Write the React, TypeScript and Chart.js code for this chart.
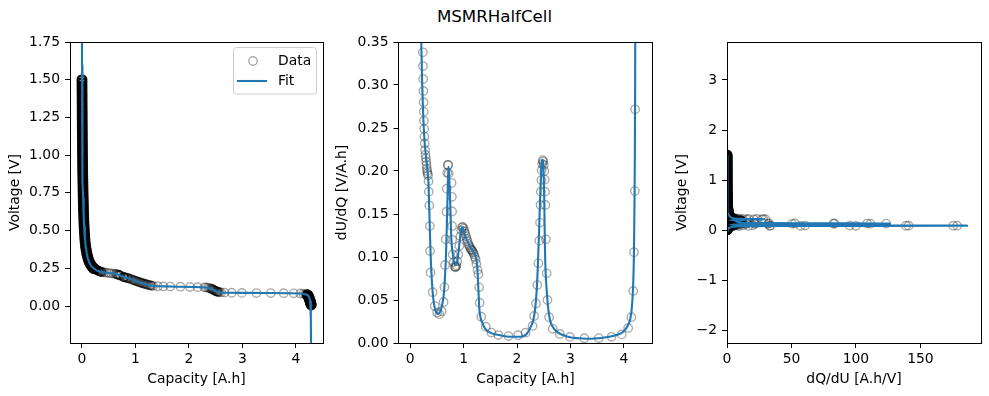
import React, { useEffect, useRef } from "react";
import { Chart, registerables } from "chart.js";

Chart.register(...registerables);

const FONT = "'DejaVu Sans', sans-serif";
const FS = 13.9;

// ---------------- measured data (sparse, individually visible circles) ----------------
const sparseCapacity = [
  0.237, 0.24, 0.243, 0.246, 0.25, 0.253, 0.257, 0.261, 0.266, 0.272, 0.279, 0.286, 0.293, 0.3, 0.306,
  0.312, 0.318, 0.324, 0.336, 0.343, 0.347, 0.358, 0.368, 0.372, 0.38, 0.42, 0.46, 0.505, 0.545, 0.59,
  0.625, 0.64, 0.652, 0.665, 0.678, 0.685, 0.693, 0.703, 0.712, 0.72, 0.775, 0.78, 0.785, 0.785, 0.785,
  0.795, 0.815, 0.835, 0.845, 0.855, 0.865, 0.88, 0.9, 0.92, 0.94, 0.955, 0.97, 0.985, 1.0, 1.015,
  1.03, 1.045, 1.06, 1.075, 1.09, 1.105, 1.12, 1.135, 1.15, 1.165, 1.18, 1.195, 1.21, 1.225, 1.24,
  1.26, 1.277, 1.29, 1.3, 1.33, 1.415, 1.52, 1.65, 1.84, 2.02, 2.16, 2.29, 2.32, 2.355, 2.38,
  2.4, 2.417, 2.43, 2.44, 2.445, 2.455, 2.46, 2.47, 2.48, 2.49, 2.5, 2.51, 2.52, 2.525, 2.53,
  2.54, 2.555, 2.57, 2.6, 2.667, 2.8, 2.99, 3.26, 3.53, 3.77, 3.96, 4.08, 4.14, 4.175, 4.19,
  4.206, 4.21,
];
const sparseVoltage = [
  0.2455, 0.245, 0.2445, 0.244, 0.2435, 0.243, 0.2425, 0.242, 0.241, 0.2395, 0.238, 0.237, 0.2355, 0.2345, 0.2335,
  0.2325, 0.2315, 0.2305, 0.229, 0.228, 0.2275, 0.2265, 0.2255, 0.225, 0.2245, 0.2225, 0.2205, 0.2185, 0.217, 0.2145,
  0.2125, 0.2115, 0.2105, 0.209, 0.2075, 0.2065, 0.2055, 0.204, 0.2025, 0.201, 0.1925, 0.192, 0.1915, 0.1915, 0.1915,
  0.1905, 0.189, 0.187, 0.186, 0.185, 0.184, 0.1825, 0.18, 0.1775, 0.175, 0.173, 0.171, 0.169, 0.167, 0.165,
  0.163, 0.161, 0.16, 0.158, 0.156, 0.154, 0.153, 0.151, 0.149, 0.148, 0.146, 0.145, 0.143, 0.142, 0.14,
  0.138, 0.137, 0.136, 0.135, 0.133, 0.131, 0.13, 0.129, 0.128, 0.126, 0.125, 0.124, 0.123, 0.121, 0.119,
  0.117, 0.115, 0.113, 0.111, 0.11, 0.108, 0.106, 0.105, 0.103, 0.101, 0.099, 0.097, 0.096, 0.095, 0.095,
  0.094, 0.093, 0.092, 0.09, 0.089, 0.088, 0.087, 0.086, 0.086, 0.085, 0.084, 0.083, 0.081, 0.079, 0.078,
  0.077, 0.076,
];
const sparseDUdQ = [
  0.338, 0.322, 0.307, 0.293, 0.28, 0.269, 0.2585, 0.249, 0.24, 0.232, 0.2245, 0.219, 0.215, 0.211, 0.207,
  0.203, 0.2, 0.197, 0.195, 0.188, 0.176, 0.16, 0.136, 0.107, 0.082, 0.059, 0.043, 0.0355, 0.0335, 0.037,
  0.0477, 0.065, 0.0907, 0.1206, 0.1527, 0.1795, 0.198, 0.207, 0.207, 0.197, 0.186, 0.17, 0.153, 0.136, 0.12,
  0.103, 0.094, 0.089, 0.088, 0.0885, 0.09, 0.095, 0.103, 0.113, 0.124, 0.131, 0.1345, 0.135, 0.133, 0.13,
  0.127, 0.124, 0.121, 0.118, 0.115, 0.113, 0.111, 0.109, 0.108, 0.107, 0.105, 0.103, 0.1, 0.097, 0.092,
  0.085, 0.08, 0.0647, 0.0469, 0.0306, 0.019, 0.0121, 0.0092, 0.0081, 0.009, 0.012, 0.0198, 0.0314, 0.046, 0.0674,
  0.0926, 0.119, 0.14, 0.1605, 0.176, 0.1895, 0.201, 0.208, 0.2125, 0.211, 0.207, 0.2, 0.19, 0.176, 0.1605,
  0.1206, 0.081, 0.05, 0.03, 0.0165, 0.0105, 0.0071, 0.0056, 0.0057, 0.0072, 0.01, 0.0175, 0.03, 0.0605, 0.1055,
  0.1767, 0.2717,
];

// ---------------- measured data (steep parts, where circles pile up into a solid band) ----------------
const denseCapacity = [
  0.0, 0.0, 0.001, 0.001, 0.001, 0.002, 0.002, 0.002, 0.003, 0.003, 0.003, 0.004, 0.004, 0.004, 0.005,
  0.005, 0.006, 0.006, 0.007, 0.007, 0.008, 0.008, 0.009, 0.009, 0.01, 0.01, 0.011, 0.011, 0.012, 0.013,
  0.013, 0.014, 0.015, 0.016, 0.017, 0.018, 0.019, 0.02, 0.021, 0.022, 0.024, 0.025, 0.027, 0.028, 0.03,
  0.032, 0.034, 0.036, 0.038, 0.041, 0.044, 0.047, 0.051, 0.055, 0.06, 0.066, 0.072, 0.079, 0.087, 0.096,
  0.106, 0.118, 0.13, 0.142, 0.155, 0.168, 0.182, 0.196, 0.21, 0.224,
  4.215, 4.222, 4.229, 4.236, 4.243, 4.25, 4.256, 4.262, 4.267, 4.272, 4.276, 4.28, 4.284,
];
const denseVoltage = [
  1.5, 1.48, 1.46, 1.44, 1.42, 1.4, 1.38, 1.36, 1.34, 1.32, 1.3, 1.28, 1.26, 1.24, 1.22,
  1.2, 1.18, 1.16, 1.14, 1.12, 1.1, 1.08, 1.06, 1.04, 1.02, 1.0, 0.98, 0.96, 0.94, 0.92,
  0.9, 0.88, 0.86, 0.84, 0.82, 0.8, 0.78, 0.76, 0.74, 0.72, 0.7, 0.68, 0.66, 0.64, 0.62,
  0.6, 0.58, 0.56, 0.54, 0.52, 0.5, 0.48, 0.46, 0.44, 0.42, 0.4, 0.385, 0.37, 0.355, 0.34,
  0.325, 0.31, 0.298, 0.288, 0.279, 0.271, 0.264, 0.258, 0.252, 0.248,
  0.074, 0.07, 0.065, 0.06, 0.054, 0.048, 0.042, 0.036, 0.03, 0.024, 0.018, 0.012, 0.007,
];
const denseDUdQ = [
  60, 60, 55, 55, 50, 50, 45, 45, 40, 40, 38, 36, 34, 32, 30,
  29, 28, 27, 26, 25, 24, 23, 22, 21, 20, 19, 18, 17, 16, 15,
  14, 13, 12, 11, 10, 9, 8, 7.5, 7, 6.5, 6, 5.5, 5, 4.6, 4.2,
  3.9, 3.6, 3.3, 3.0, 2.7, 2.4, 2.2, 2.0, 1.8, 1.6, 1.4, 1.25, 1.1, 1.0, 0.9,
  0.8, 0.72, 0.65, 0.6, 0.55, 0.5, 0.46, 0.43, 0.4, 0.37,
  0.45, 0.6, 0.8, 1.0, 1.3, 1.6, 2.0, 2.5, 3.0, 3.5, 4.0, 5.0, 6.0,
];

// ---------------- fit curves ----------------
const fitCapacity = [
  0.0, 0.001, 0.003, 0.006, 0.01, 0.015, 0.022, 0.03, 0.04, 0.052, 0.068, 0.088, 0.11, 0.135, 0.165,
  0.2, 0.24, 0.28, 0.34, 0.4, 0.46, 0.53, 0.6, 0.65, 0.69, 0.72, 0.76, 0.8, 0.85, 0.9,
  0.96, 1.0, 1.1, 1.2, 1.27, 1.33, 1.42, 1.55, 1.8, 2.1, 2.28, 2.35, 2.41, 2.46, 2.5,
  2.54, 2.6, 2.7, 3.0, 3.5, 3.9, 4.08, 4.15, 4.2, 4.23, 4.25, 4.265, 4.275, 4.28, 4.285,
];
const fitVoltage = [
  1.9, 1.6, 1.3, 1.1, 0.95, 0.82, 0.72, 0.62, 0.53, 0.46, 0.4, 0.35, 0.315, 0.29, 0.27,
  0.255, 0.244, 0.236, 0.228, 0.2235, 0.2205, 0.2175, 0.214, 0.211, 0.206, 0.201, 0.195, 0.1905, 0.186, 0.18,
  0.172, 0.167, 0.155, 0.144, 0.137, 0.133, 0.131, 0.13, 0.128, 0.126, 0.124, 0.121, 0.115, 0.106, 0.098,
  0.093, 0.09, 0.088, 0.087, 0.086, 0.085, 0.083, 0.08, 0.076, 0.068, 0.055, 0.035, 0.0, -0.08, -0.4,
];

const fitDiffCapacity = [
  0.19, 0.206, 0.225, 0.245, 0.267, 0.29, 0.31, 0.33, 0.342, 0.352, 0.361, 0.373, 0.386, 0.4, 0.417,
  0.435, 0.455, 0.485, 0.517, 0.56, 0.585, 0.604, 0.622, 0.636, 0.652, 0.667, 0.685, 0.697, 0.708, 0.717,
  0.726, 0.735, 0.748, 0.766, 0.78, 0.797, 0.82, 0.841, 0.862, 0.885, 0.905, 0.922, 0.94, 0.953, 0.978,
  1.0, 1.015, 1.06, 1.12, 1.18, 1.234, 1.25, 1.262, 1.277, 1.296, 1.315, 1.34, 1.4, 1.495, 1.68,
  1.87, 2.056, 2.18, 2.243, 2.305, 2.34, 2.368, 2.39, 2.411, 2.43, 2.443, 2.455, 2.467, 2.48, 2.49,
  2.5, 2.51, 2.523, 2.537, 2.555, 2.58, 2.617, 2.67, 2.742, 2.85, 2.99, 3.15, 3.3, 3.45, 3.61,
  3.75, 3.86, 3.99, 4.08, 4.12, 4.145, 4.162, 4.175, 4.186, 4.193, 4.2, 4.206, 4.211, 4.215,
];
const fitDUdQ = [
  0.42, 0.353, 0.3, 0.262, 0.236, 0.22, 0.209, 0.196, 0.186, 0.165, 0.147, 0.12, 0.0965, 0.078, 0.0616,
  0.05, 0.042, 0.036, 0.0337, 0.0364, 0.041, 0.046, 0.053, 0.0616, 0.078, 0.0965, 0.135, 0.165, 0.192, 0.205,
  0.198, 0.186, 0.166, 0.1275, 0.112, 0.104, 0.094, 0.0907, 0.0925, 0.0965, 0.106, 0.116, 0.126, 0.1314, 0.1345,
  0.131, 0.1275, 0.12, 0.112, 0.106, 0.0985, 0.092, 0.082, 0.0616, 0.0384, 0.03, 0.0248, 0.0171, 0.012, 0.009,
  0.0073, 0.0073, 0.0105, 0.0171, 0.0267, 0.04, 0.0616, 0.09, 0.1275, 0.165, 0.186, 0.203, 0.2128, 0.213, 0.209,
  0.192, 0.166, 0.108, 0.08, 0.0616, 0.042, 0.0267, 0.0185, 0.0132, 0.0095, 0.0066, 0.0055, 0.005, 0.0053, 0.0062,
  0.0075, 0.0093, 0.0132, 0.021, 0.028, 0.0384, 0.052, 0.0694, 0.095, 0.1275, 0.17, 0.224, 0.3, 0.42,
];

const fitDiffVoltage = [
  1.5, 1.0, 0.7, 0.5, 0.4, 0.35, 0.3, 0.27, 0.25, 0.24, 0.235, 0.23, 0.225, 0.221, 0.218,
  0.2155, 0.213, 0.21, 0.207, 0.204, 0.2, 0.197, 0.193, 0.189, 0.184, 0.178, 0.171, 0.164, 0.157, 0.15,
  0.145, 0.141, 0.138, 0.135, 0.133, 0.131, 0.129, 0.127, 0.125, 0.123, 0.12, 0.116, 0.11, 0.105, 0.1,
  0.097, 0.094, 0.091, 0.089, 0.087, 0.0865, 0.085, 0.083, 0.08, 0.076, 0.07, 0.06, 0.04, 0.0, -0.05,
];
const fitDQdU = [
  0.01, 0.03, 0.08, 0.2, 0.45, 0.7, 1.3, 2.2, 3.2, 4.2, 5.5, 7.5, 11, 17, 25,
  29.7, 25, 14, 8, 5.6, 4.9, 5.6, 8, 11, 10, 8.2, 7.4, 7.9, 8.9, 9.5,
  11, 16, 30, 60, 95, 118, 127, 125, 110, 60, 25, 9, 5.5, 4.7, 6,
  12, 35, 90, 150, 184, 187, 175, 110, 45, 16, 7, 3.5, 1.5, 0.5, 0.15,
];

// ---------------- ticks ----------------
const p1XTicks = [0, 1, 2, 3, 4];
const p1YTicks = [0, 0.25, 0.5, 0.75, 1.0, 1.25, 1.5, 1.75];
const p2XTicks = [0, 1, 2, 3, 4];
const p2YTicks = [0, 0.05, 0.1, 0.15, 0.2, 0.25, 0.3, 0.35];
const p3XTicks = [0, 50, 100, 150];
const p3YTicks = [-2, -1, 0, 1, 2, 3];

const FIG_W = 989;
const FIG_H = 396;
const AREA_TOP = 42;
const AREA_BOTTOM = 343;

const BLUE = "#1f77b4";
const SPARSE_COLOR = "rgba(0,0,0,0.33)";
const DENSE_COLOR = "rgba(0,0,0,0.92)";
const FIT_WIDTH = 2.1;

const pts = (xs: number[], ys: number[]) => xs.map((x, i) => ({ x, y: ys[i] }));

const framePlugin = {
  id: "frame",
  afterDatasetsDraw(chart: any) {
    const { ctx, chartArea: a } = chart;
    ctx.save();
    ctx.strokeStyle = "#000";
    ctx.lineWidth = 1;
    const l = Math.floor(a.left) + 0.5;
    const r = Math.floor(a.right) + 0.5;
    const t = Math.floor(a.top) + 0.5;
    const b = Math.floor(a.bottom) + 0.5;
    ctx.strokeRect(l, t, r - l, b - t);
    ctx.restore();
  },
};

const legendPlugin = {
  id: "mplLegend",
  afterDraw(chart: any) {
    const { ctx } = chart;
    ctx.save();
    const x0 = 233.5, y0 = 47.5, w = 83, h = 46.5, rad = 3;
    ctx.beginPath();
    ctx.moveTo(x0 + rad, y0);
    ctx.lineTo(x0 + w - rad, y0);
    ctx.arcTo(x0 + w, y0, x0 + w, y0 + rad, rad);
    ctx.lineTo(x0 + w, y0 + h - rad);
    ctx.arcTo(x0 + w, y0 + h, x0 + w - rad, y0 + h, rad);
    ctx.lineTo(x0 + rad, y0 + h);
    ctx.arcTo(x0, y0 + h, x0, y0 + h - rad, rad);
    ctx.lineTo(x0, y0 + rad);
    ctx.arcTo(x0, y0, x0 + rad, y0, rad);
    ctx.closePath();
    ctx.fillStyle = "rgba(255,255,255,0.8)";
    ctx.fill();
    ctx.strokeStyle = "#cccccc";
    ctx.lineWidth = 1;
    ctx.stroke();

    ctx.beginPath();
    ctx.arc(253, 61, 4.2, 0, Math.PI * 2);
    ctx.strokeStyle = SPARSE_COLOR;
    ctx.lineWidth = 1.4;
    ctx.stroke();

    ctx.beginPath();
    ctx.moveTo(237, 81);
    ctx.lineTo(267, 81);
    ctx.strokeStyle = BLUE;
    ctx.lineWidth = FIT_WIDTH;
    ctx.stroke();

    ctx.fillStyle = "#000";
    ctx.font = `${FS}px ${FONT}`;
    ctx.textBaseline = "middle";
    ctx.textAlign = "left";
    ctx.fillText("Data", 278, 61);
    ctx.fillText("Fit", 278, 81);
    ctx.restore();
  },
};

type Spec = {
  datasets: any[];
  xMin: number; xMax: number; yMin: number; yMax: number;
  xTicks: number[]; yTicks: number[];
  xFmt: (v: number) => string; yFmt: (v: number) => string;
  xTitle: string; yTitle: string;
  areaLeft: number; areaRight: number; yTitleX: number;
  extra?: any[];
};

function buildConfig(s: Spec): any {
  const lineH = FS * 1.2;
  const axisLeft = s.yTitleX - lineH / 2;
  const yAxisWidth = s.areaLeft - axisLeft;
  const font = { family: FONT, size: FS };
  const grid = {
    drawOnChartArea: false,
    drawTicks: true,
    tickLength: 5,
    color: "#000",
    tickColor: "#000",
    lineWidth: 1,
    tickWidth: 1,
  };
  return {
    type: "scatter",
    data: { datasets: s.datasets },
    options: {
      responsive: false,
      animation: false,
      devicePixelRatio: 1,
      events: [],
      layout: { padding: { left: axisLeft, right: FIG_W - s.areaRight, top: AREA_TOP, bottom: 0 } },
      plugins: { legend: { display: false }, tooltip: { enabled: false }, title: { display: false } },
      scales: {
        x: {
          type: "linear",
          min: s.xMin,
          max: s.xMax,
          afterBuildTicks: (sc: any) => { sc.ticks = s.xTicks.map((v) => ({ value: v })); },
          afterFit: (sc: any) => { sc.height = FIG_H - AREA_BOTTOM; },
          ticks: { callback: (v: any) => s.xFmt(Number(v)), color: "#000", font, padding: 3, maxRotation: 0, autoSkip: false },
          grid,
          border: { display: false },
          title: { display: true, text: s.xTitle, color: "#000", font, padding: { top: 0, bottom: 8 } },
        },
        y: {
          type: "linear",
          min: s.yMin,
          max: s.yMax,
          afterBuildTicks: (sc: any) => { sc.ticks = s.yTicks.map((v) => ({ value: v })); },
          afterFit: (sc: any) => { sc.width = yAxisWidth; },
          ticks: { callback: (v: any) => s.yFmt(Number(v)), color: "#000", font, padding: 5, autoSkip: false },
          grid,
          border: { display: false },
          title: { display: true, text: s.yTitle, color: "#000", font, padding: { top: 0, bottom: 0 } },
        },
      },
    },
    plugins: [framePlugin, ...(s.extra || [])],
  };
}

const fmt2 = (v: number) => v.toFixed(2);
const fmtInt = (v: number) => (v < 0 ? "\u2212" + Math.abs(v) : String(v));

function dataSets(sparse: any[], dense: any[], fit: any[], monotone: boolean) {
  return [
    {
      label: "Fit",
      data: fit,
      showLine: true,
      borderColor: BLUE,
      borderWidth: FIT_WIDTH,
      pointRadius: 0,
      tension: 0,
      cubicInterpolationMode: monotone ? "monotone" : "default",
      order: 0,
      clip: 0,
    },
    {
      label: "Data",
      data: sparse,
      showLine: false,
      pointRadius: 4.2,
      pointBorderWidth: 1.4,
      pointBorderColor: SPARSE_COLOR,
      pointBackgroundColor: "rgba(0,0,0,0)",
      order: 1,
      clip: 0,
    },
    {
      label: "Data (overlapping)",
      data: dense,
      showLine: false,
      pointRadius: 4.2,
      pointBorderWidth: 2.6,
      pointBorderColor: DENSE_COLOR,
      pointBackgroundColor: "rgba(0,0,0,0)",
      order: 2,
      clip: 0,
    },
  ];
}

export default function App() {
  const c1 = useRef<HTMLCanvasElement>(null);
  const c2 = useRef<HTMLCanvasElement>(null);
  const c3 = useRef<HTMLCanvasElement>(null);

  useEffect(() => {
    const p1 = buildConfig({
      datasets: dataSets(
        pts(sparseCapacity, sparseVoltage),
        pts(denseCapacity, denseVoltage),
        pts(fitCapacity, fitVoltage),
        false
      ),
      xMin: -0.224, xMax: 4.505, yMin: -0.245, yMax: 1.75,
      xTicks: p1XTicks, yTicks: p1YTicks, xFmt: fmtInt, yFmt: fmt2,
      xTitle: "Capacity [A.h]", yTitle: "Voltage [V]",
      areaLeft: 70, areaRight: 323, yTitleX: 15.5,
      extra: [legendPlugin],
    });
    const p2 = buildConfig({
      datasets: dataSets(
        pts(sparseCapacity, sparseDUdQ),
        pts(denseCapacity, denseDUdQ),
        pts(fitDiffCapacity, fitDUdQ),
        true
      ),
      xMin: -0.219, xMax: 4.536, yMin: 0, yMax: 0.35,
      xTicks: p2XTicks, yTicks: p2YTicks, xFmt: fmtInt, yFmt: fmt2,
      xTitle: "Capacity [A.h]", yTitle: "dU/dQ [V/A.h]",
      areaLeft: 398.5, areaRight: 652.5, yTitleX: 342,
    });
    const p3 = buildConfig({
      datasets: dataSets(
        pts(sparseDUdQ.map((d) => 1 / d), sparseVoltage),
        pts(denseDUdQ.map((d) => 1 / d), denseVoltage),
        pts(fitDQdU, fitDiffVoltage),
        false
      ),
      xMin: 0, xMax: 197, yMin: -2.26, yMax: 3.76,
      xTicks: p3XTicks, yTicks: p3YTicks, xFmt: fmtInt, yFmt: fmtInt,
      xTitle: "dQ/dU [A.h/V]", yTitle: "Voltage [V]",
      areaLeft: 727, areaRight: 981, yTitleX: 682.5,
    });
    const charts = [
      new Chart(c1.current as HTMLCanvasElement, p1),
      new Chart(c2.current as HTMLCanvasElement, p2),
      new Chart(c3.current as HTMLCanvasElement, p3),
    ];
    return () => charts.forEach((c) => c.destroy());
  }, []);

  const canvasStyle: React.CSSProperties = { position: "absolute", left: 0, top: 0, display: "block" };
  return (
    <div style={{ position: "absolute", left: 0, top: 0, width: FIG_W, height: FIG_H, background: "#fff", overflow: "hidden" }}>
      <div
        style={{
          position: "absolute", left: 0, top: 7, width: FIG_W, textAlign: "center",
          fontFamily: FONT, fontSize: "16.67px", lineHeight: "20px", color: "#000",
        }}
      >
        MSMRHalfCell
      </div>
      <canvas ref={c1} width={FIG_W} height={FIG_H} style={canvasStyle} />
      <canvas ref={c2} width={FIG_W} height={FIG_H} style={canvasStyle} />
      <canvas ref={c3} width={FIG_W} height={FIG_H} style={canvasStyle} />
    </div>
  );
}
